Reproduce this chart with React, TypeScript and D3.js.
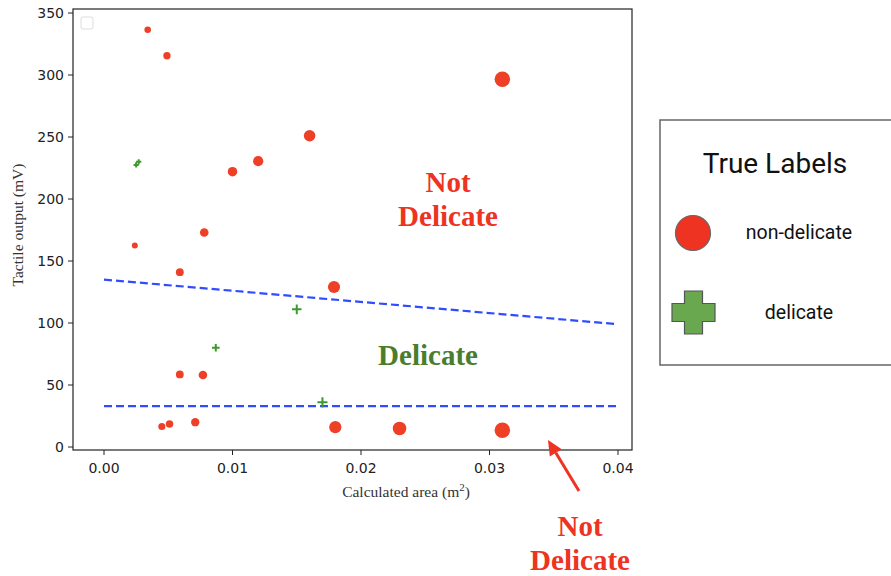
import React from "react";
import * as d3 from "d3";

// data
const redX = [0.0034, 0.0049, 0.031, 0.016, 0.012, 0.010, 0.0024, 0.0078, 0.0059, 0.0179, 0.0059, 0.0077, 0.0045, 0.0051, 0.0071, 0.018, 0.023, 0.031];
const redY = [336.5, 315.5, 296.5, 251, 230.5, 222, 162.5, 173, 141, 129, 58.5, 58, 16.5, 18.5, 20, 16, 15, 13.5];
const greenX = [0.0025, 0.0027, 0.0087, 0.015, 0.017];
const greenY = [227.5, 230, 80, 111, 36];
const upperLineX = [0.0, 0.04];
const upperLineY = [135, 99];
const lowerLineX = [0.0, 0.04];
const lowerLineY = [33, 33];
const xTicks = [0.0, 0.01, 0.02, 0.03, 0.04];
const yTicks = [0, 50, 100, 150, 200, 250, 300, 350];
const legendTitle = "True Labels";
const legendLabels = ["non-delicate", "delicate"];

const W = 891, H = 576;
const M = { left: 73, top: 9, right: 632, bottom: 450 };

export default function App() {
  const x = d3.scaleLinear().domain([0, 0.04]).range([104, 618]);
  const y = d3.scaleLinear().domain([0, 350]).range([447, 13]);
  const area = d3.scaleLinear().domain([0, 0.03]).range([4.7, 58.2]);
  const rad = (v: number) => Math.sqrt(area(v));
  const red = "#ee3f27";
  const green = "#3d9a2c";
  const line = d3.line<[number, number]>().x(d => x(d[0])).y(d => y(d[1]));
  const up: [number, number][] = upperLineX.map((v, i) => [v, upperLineY[i]]);
  const lo: [number, number][] = lowerLineX.map((v, i) => [v, lowerLineY[i]]);
  const tickFont = "DejaVu Sans, sans-serif";
  const serif = "Liberation Serif, Times New Roman, serif";
  const ax0 = 579, ay0 = 491, ax1 = 548, ay1 = 440;
  const ang = Math.atan2(ay1 - ay0, ax1 - ax0);
  const hl = 15, hw = 7;
  const bx = ax1 - hl * Math.cos(ang), by = ay1 - hl * Math.sin(ang);
  const px = -Math.sin(ang), py = Math.cos(ang);
  return (
    <svg width={W} height={H} style={{ position: "absolute", left: 0, top: 0, background: "#fff" }}>
      <rect x={0} y={0} width={W} height={H} fill="#fff" />
      {/* frame */}
      <rect x={M.left} y={M.top} width={M.right - M.left} height={M.bottom - M.top} fill="none" stroke="#222" strokeWidth={1.2} />
      {/* empty matplotlib legend */}
      <rect x={81} y={17} width={12} height={12} rx={2} fill="#fff" stroke="#ddd" strokeWidth={1} />
      {/* x ticks */}
      {xTicks.map(t => (
        <g key={"x" + t}>
          <line x1={x(t)} x2={x(t)} y1={M.bottom} y2={M.bottom + 5} stroke="#222" strokeWidth={1} />
          <text x={x(t)} y={473} textAnchor="middle" fontFamily={tickFont} fontSize={14} fill="#222">{t.toFixed(2)}</text>
        </g>
      ))}
      {yTicks.map(t => (
        <g key={"y" + t}>
          <line x1={M.left - 5} x2={M.left} y1={y(t)} y2={y(t)} stroke="#222" strokeWidth={1} />
          <text x={64} y={y(t) + 5} textAnchor="end" fontFamily={tickFont} fontSize={14} fill="#222">{t}</text>
        </g>
      ))}
      <text x={406} y={497} textAnchor="middle" fontFamily={serif} fontSize={15.5} fill="#333">
        Calculated area (m<tspan dy={-6} fontSize={11}>2</tspan><tspan dy={6}>)</tspan>
      </text>
      <text transform={`translate(23,225) rotate(-90)`} textAnchor="middle" fontFamily={serif} fontSize={15.5} fill="#333">Tactile output (mV)</text>
      {/* dashed lines */}
      <path d={line(up) || ""} fill="none" stroke="#2f4cff" strokeWidth={2.2} strokeDasharray="8,4" />
      <path d={line(lo) || ""} fill="none" stroke="#2f4cff" strokeWidth={2.2} strokeDasharray="8,4" />
      {/* red points */}
      {redX.map((v, i) => (
        <circle key={"r" + i} cx={x(v)} cy={y(redY[i])} r={rad(v)} fill={red} />
      ))}
      {/* green plus */}
      {greenX.map((v, i) => {
        const s = rad(v) * 0.85;
        const cx = x(v), cy = y(greenY[i]);
        return (
          <path key={"g" + i} d={`M${cx - s},${cy}H${cx + s}M${cx},${cy - s}V${cy + s}`} stroke={green} strokeWidth={2} fill="none" />
        );
      })}
      {/* annotations */}
      <text x={448} y={192} textAnchor="middle" fontFamily={serif} fontWeight="bold" fontSize={29} fill="#ee3322">Not</text>
      <text x={448} y={226} textAnchor="middle" fontFamily={serif} fontWeight="bold" fontSize={29} fill="#ee3322">Delicate</text>
      <text x={428} y={365} textAnchor="middle" fontFamily={serif} fontWeight="bold" fontSize={29} fill="#4a7d2e">Delicate</text>
      <text x={580} y={536} textAnchor="middle" fontFamily={serif} fontWeight="bold" fontSize={29} fill="#ee3322">Not</text>
      <text x={580} y={570} textAnchor="middle" fontFamily={serif} fontWeight="bold" fontSize={29} fill="#ee3322">Delicate</text>
      {/* arrow */}
      <line x1={ax0} y1={ay0} x2={bx} y2={by} stroke="#ee3322" strokeWidth={3} />
      <path d={`M${ax1},${ay1}L${bx + px * hw},${by + py * hw}L${bx - px * hw},${by - py * hw}Z`} fill="#ee3322" />
      {/* legend */}
      <rect x={660} y={120} width={240} height={245} fill="#fff" stroke="#666" strokeWidth={1.5} />
      <text x={775} y={173} textAnchor="middle" fontFamily="Roboto, sans-serif" fontSize={28} fill="#111">{legendTitle}</text>
      <circle cx={693} cy={233} r={17.5} fill="#ee3322" stroke="#666" strokeWidth={1.2} />
      <text x={799} y={239} textAnchor="middle" fontFamily="Roboto, sans-serif" fontSize={19.5} fill="#111">{legendLabels[0]}</text>
      <path d="M684.5,291 h18 v12.5 h12.5 v18 h-12.5 v12.5 h-18 v-12.5 h-12.5 v-18 h12.5 z" fill="#6aa84f" stroke="#555" strokeWidth={1.2} />
      <text x={799} y={319} textAnchor="middle" fontFamily="Roboto, sans-serif" fontSize={19.5} fill="#111">{legendLabels[1]}</text>
    </svg>
  );
}
